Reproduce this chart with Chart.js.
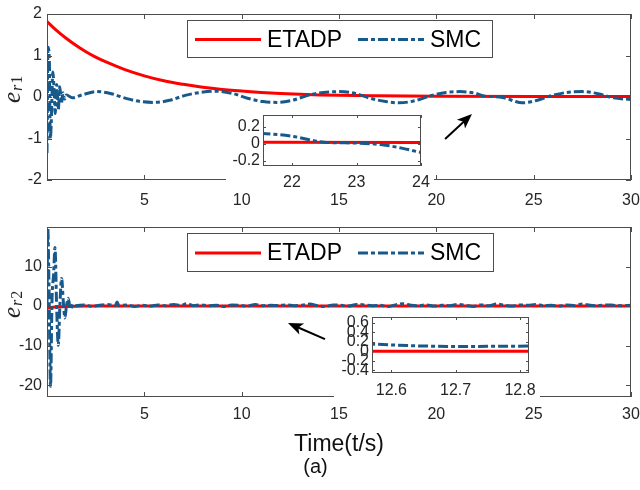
<!DOCTYPE html>
<html>
<head>
<meta charset="utf-8">
<script src="https://cdn.jsdelivr.net/npm/chart.js@4.4.1/dist/chart.umd.min.js"></script>
<style>
  body { margin: 0; background: #fff; }
  #wrap { position: relative; width: 640px; height: 490px; overflow: hidden; }
  canvas { position: absolute; }
</style>
</head>
<body>
<div id="wrap">
  <canvas id="topChart" width="640" height="212" style="left:0;top:0"></canvas>
  <canvas id="bottomChart" width="640" height="275" style="left:0;top:215px"></canvas>
  <canvas id="zoom1" width="208" height="81" style="left:226px;top:108px"></canvas>
  <canvas id="zoom2" width="206" height="92" style="left:334px;top:309px"></canvas>
</div>
<script>
// e_r1 : ETADP
const tEtadp1 = [0, 0.5, 1, 1.5, 2, 2.5, 3, 4, 5, 6, 7, 8, 9, 10, 11, 12, 13, 14, 15, 17, 20, 25, 30];
const etadp1 = [1.82, 1.6, 1.41, 1.24, 1.09, 0.96, 0.85, 0.66, 0.51, 0.39, 0.305, 0.236, 0.183, 0.142, 0.11, 0.085, 0.066, 0.05, 0.04, 0.03, 0.02, 0.015, 0.015];

// e_r1 : SMC
const tSmc1 = [0, 0.05, 0.12, 0.17, 0.22, 0.3, 0.36, 0.42, 0.5, 0.58,
  0.66, 0.74, 0.82, 0.9, 1.0, 1.3, 1.8, 2.55, 3.3, 4.1,
  4.8, 5.5, 6.3, 7.1, 7.9, 8.7, 9.5, 10.3, 11.1, 11.8,
  12.6, 13.4, 14.2, 15.0, 15.8, 16.6, 17.4, 18.1, 18.9, 19.7,
  20.5, 21.2, 21.6, 22.0, 22.5, 23.0, 23.4, 23.7, 24.0, 24.4,
  25.1, 25.9, 26.7, 27.5, 28.3, 29.1, 30];
const smc1 = [-1.35, 1.2, 0.9, -1.0, -0.6, 0.6, 0.2, -0.4, 0.3, -0.3,
  0.25, -0.15, 0.1, -0.05, 0.05, -0.02, 0.05, 0.13, 0.08, -0.04,
  -0.11, -0.13, -0.08, 0.04, 0.11, 0.14, 0.09, -0.03, -0.11, -0.13,
  -0.08, 0.04, 0.11, 0.13, 0.09, -0.03, -0.11, -0.14, -0.09, 0.03,
  0.11, 0.13, 0.12, 0.09, 0.02, 0.01, -0.01, -0.05, -0.1, -0.14,
  -0.09, 0.03, 0.11, 0.13, 0.08, -0.02, -0.06];

// e_r2 : ETADP
const tEtadp2 = [0, 0.3, 0.6, 1, 2, 30];
const etadp2 = [-0.4, -0.3, -0.2, -0.1, 0, 0];

// e_r2 : SMC
const tSmc2 = [0, 0.04, 0.1, 0.18, 0.26, 0.34, 0.41, 0.5, 0.58, 0.66,
  0.75, 0.84, 0.92, 1.0, 1.09, 1.2, 1.35, 1.5,
  1.9, 2.3, 2.7, 3.1, 3.5, 3.6, 3.7, 4.1, 4.5, 4.9,
  5.3, 5.7, 6.1, 6.5, 6.9, 7.2, 7.5, 7.9, 8.3, 8.7,
  9.1, 9.5, 9.9, 10.3, 10.7, 11.1, 11.5, 11.9, 12.3, 12.7,
  13.1, 13.5, 13.9, 14.3, 14.7, 15.1, 15.5, 15.9, 16.3, 16.7,
  17.1, 17.5, 17.9, 18.3, 18.7, 19.1, 19.5, 19.9, 20.3, 20.7,
  21.1, 21.5, 21.9, 22.3, 22.7, 23.1, 23.5, 23.9, 24.3, 24.7,
  25.1, 25.5, 25.9, 26.3, 26.7, 27.1, 27.5, 27.9, 28.3, 28.7,
  29.1, 29.5, 30];
const smc2 = [0, 19.8, 6, -20.3, 2, 8, 14.8, -1, -9.9, 0,
  7, 1, -3, 0, 2, -0.8, 0.6, 0.1,
  0.3, -0.1, 0.2, 0.4, 0.1, 1.0, 0.1, 0.3, -0.1, 0.2,
  0.0, 0.3, 0.1, 0.4, 0.2, 0.6, 0.1, 0.3, 0.1, 0.2,
  -0.1, 0.3, 0.2, 0.0, 0.4, 0.1, 0.2, 0.15, 0.3, 0.1,
  0.2, 0.5, 0.1, -0.1, 0.3, 0.2, 0.0, 0.4, 0.3, 0.1,
  0.2, -0.1, 0.3, 0.6, 0.2, 0.1, 0.3, 0.0, 0.2, 0.1,
  0.4, 0.2, -0.1, 0.3, 0.1, 0.5, 0.2, 0.0, 0.3, 0.2,
  0.4, 0.1, 0.2, 0.0, 0.3, 0.1, 0.5, 0.2, 0.1, 0.3,
  0.2, 0.1, 0.2];

// tick labels
const xTicks = [5, 10, 15, 20, 25, 30];
const yTicks1 = [-2, -1, 0, 1, 2];
const yTicks2 = [-20, -10, 0, 10];
const xTicksZoom1 = [22, 23, 24];
const yTicksZoom1 = [-0.2, 0, 0.2];
const xTicksZoom2 = [12.6, 12.7, 12.8];
const yTicksZoom2 = [-0.4, -0.2, 0, 0.2, 0.4, 0.6];

const FONT = '"Liberation Sans", Arial, sans-serif';
const INK = '#262626';
const BOX = '#4d4d4d';
const RED = '#ff0000';
const BLUE = '#18598b';

function series(ts, vs) {
  return ts.map((t, i) => ({ x: t, y: vs[i] }));
}

function makeDatasets(tE, vE, tS, vS) {
  return [
    { label: 'ETADP', data: series(tE, vE), borderColor: RED, borderWidth: 3,
      pointRadius: 0, cubicInterpolationMode: 'monotone', order: 1 },
    { label: 'SMC', data: series(tS, vS), borderColor: BLUE, borderWidth: 3,
      borderDash: [10, 3, 4, 3], pointRadius: 0, cubicInterpolationMode: 'monotone', order: 0 }
  ];
}

// set the ticks straight from a list
function fixedTicks(list) {
  return scale => { scale.ticks = list.map(v => ({ value: v })); };
}

function axis(opts) {
  const horizontal = opts.horizontal;
  return {
    type: 'linear', min: opts.min, max: opts.max,
    afterBuildTicks: fixedTicks(opts.ticks),
    afterFit: s => {
      if (horizontal) { s.height = opts.size; s.paddingLeft = 0; s.paddingRight = 0; }
      else { s.width = opts.size; s.paddingTop = 0; s.paddingBottom = 0; }
    },
    grid: { display: false, drawTicks: false },
    border: { display: false },
    title: opts.title || { display: false },
    ticks: { font: { family: FONT, size: 16 }, color: INK, padding: opts.pad,
      autoSkip: false, maxRotation: 0, includeBounds: false, callback: v => String(v) }
  };
}

// box around the axes with inward ticks (MATLAB style)
function frame(len) {
  return {
    id: 'frame',
    afterDatasetsDraw(chart) {
      const { ctx, chartArea: a } = chart;
      const xs = chart.scales.x, ys = chart.scales.y;
      ctx.save();
      ctx.strokeStyle = BOX;
      ctx.lineWidth = 1;
      ctx.beginPath();
      xs.ticks.forEach(t => {
        const px = Math.round(xs.getPixelForValue(t.value)) + 0.5;
        ctx.moveTo(px, a.bottom); ctx.lineTo(px, a.bottom - len);
        ctx.moveTo(px, a.top); ctx.lineTo(px, a.top + len);
      });
      ys.ticks.forEach(t => {
        const py = Math.round(ys.getPixelForValue(t.value)) + 0.5;
        ctx.moveTo(a.left, py); ctx.lineTo(a.left + len, py);
        ctx.moveTo(a.right, py); ctx.lineTo(a.right - len, py);
      });
      ctx.stroke();
      ctx.strokeRect(Math.round(a.left) + 0.5, Math.round(a.top) + 0.5,
        Math.round(a.right - a.left) - 1, Math.round(a.bottom - a.top) - 1);
      ctx.restore();
    }
  };
}

// boxed legend inside the axes
function boxLegend(pos) {
  return {
    id: 'boxLegend',
    afterDraw(chart) {
      const { ctx, chartArea: a } = chart;
      const x0 = Math.round(a.left + pos.x), y0 = Math.round(a.top + pos.y);
      ctx.save();
      ctx.fillStyle = '#fff';
      ctx.fillRect(x0, y0, pos.w, pos.h);
      ctx.strokeStyle = BOX;
      ctx.lineWidth = 1;
      ctx.strokeRect(x0 + 0.5, y0 + 0.5, pos.w, pos.h);
      ctx.font = '23px ' + FONT;
      ctx.textBaseline = 'middle';
      const cy = y0 + pos.h / 2 + 1;
      let x = x0 + 8;
      chart.data.datasets.forEach(ds => {
        ctx.strokeStyle = ds.borderColor;
        ctx.lineWidth = ds.borderWidth;
        ctx.setLineDash(ds.borderDash || []);
        ctx.beginPath();
        ctx.moveTo(x, cy);
        ctx.lineTo(x + 66, cy);
        ctx.stroke();
        ctx.setLineDash([]);
        x += 72;
        ctx.fillStyle = '#000';
        ctx.fillText(ds.label, x, cy + 1);
        x += ctx.measureText(ds.label).width + 16;
      });
      ctx.restore();
    }
  };
}

// rotated y label e_{r1} / e_{r2}
function yLabel(num) {
  return {
    id: 'yLabel',
    afterDraw(chart) {
      const { ctx, chartArea: a } = chart;
      ctx.save();
      ctx.translate(20, (a.top + a.bottom) / 2 + 6);
      ctx.rotate(-Math.PI / 2);
      ctx.fillStyle = INK;
      ctx.textBaseline = 'alphabetic';
      ctx.font = 'italic 25px "Liberation Serif"';
      ctx.fillText('e', 0, 0);
      let x = ctx.measureText('e').width + 1;
      ctx.font = 'italic 16px "Liberation Serif"';
      ctx.fillText('r', x, 2);
      x += ctx.measureText('r').width + 1;
      ctx.font = '16px "Liberation Serif"';
      ctx.fillText(num, x, 2);
      ctx.restore();
    }
  };
}

// black arrow pointing at the zoomed region (positions in data units)
function arrow(from, to) {
  return {
    id: 'arrow',
    afterDatasetsDraw(chart) {
      const { ctx } = chart;
      const xs = chart.scales.x, ys = chart.scales.y;
      const x1 = xs.getPixelForValue(from[0]), y1 = ys.getPixelForValue(from[1]);
      const x2 = xs.getPixelForValue(to[0]), y2 = ys.getPixelForValue(to[1]);
      const ang = Math.atan2(y2 - y1, x2 - x1);
      const c = Math.cos(ang), s = Math.sin(ang);
      const L = 15, W = 6;
      ctx.save();
      ctx.strokeStyle = '#000';
      ctx.fillStyle = '#000';
      ctx.lineWidth = 2;
      ctx.beginPath();
      ctx.moveTo(x1, y1);
      ctx.lineTo(x2 - L * 0.7 * c, y2 - L * 0.7 * s);
      ctx.stroke();
      ctx.beginPath();
      ctx.moveTo(x2, y2);
      ctx.lineTo(x2 - L * c + W * s, y2 - L * s - W * c);
      ctx.lineTo(x2 - L * 0.75 * c, y2 - L * 0.75 * s);
      ctx.lineTo(x2 - L * c - W * s, y2 - L * s + W * c);
      ctx.closePath();
      ctx.fill();
      ctx.restore();
    }
  };
}

const whiteBg = {
  id: 'whiteBg',
  beforeDraw(chart) {
    const ctx = chart.ctx;
    ctx.save();
    ctx.fillStyle = '#fff';
    ctx.fillRect(0, 0, chart.width, chart.height);
    ctx.restore();
  }
};

const basePlugins = { legend: { display: false }, tooltip: { enabled: false } };

// top axes
new Chart(document.getElementById('topChart'), {
  type: 'line',
  data: { datasets: makeDatasets(tEtadp1, etadp1, tSmc1, smc1) },
  options: {
    responsive: false, animation: false, devicePixelRatio: 1,
    layout: { padding: { left: 0, right: 9, top: 14, bottom: 0 } },
    scales: {
      x: axis({ horizontal: true, min: 0, max: 30, ticks: xTicks, size: 32, pad: 11 }),
      y: axis({ horizontal: false, min: -2, max: 2, ticks: yTicks1, size: 47, pad: 5 })
    },
    plugins: basePlugins
  },
  plugins: [frame(5), arrow([20.45, -1.01], [21.83, -0.41]), boxLegend({ x: 140, y: 6, w: 305, h: 37 }), yLabel('1')]
});

// bottom axes
new Chart(document.getElementById('bottomChart'), {
  type: 'line',
  data: { datasets: makeDatasets(tEtadp2, etadp2, tSmc2, smc2) },
  options: {
    responsive: false, animation: false, devicePixelRatio: 1,
    layout: { padding: { left: 0, right: 9, top: 12, bottom: 0 } },
    scales: {
      x: axis({ horizontal: true, min: 0, max: 30, ticks: xTicks, size: 58, pad: 8,
        title: { display: true, text: 'Time(t/s)', color: '#111', padding: { top: 0, bottom: -3 },
          font: { family: FONT, size: 23 } } }),
      y: axis({ horizontal: false, min: -23, max: 20, ticks: yTicks2, size: 47, pad: 5 })
    },
    plugins: Object.assign({}, basePlugins, {
      title: { display: true, position: 'bottom', text: '(a)', color: '#111',
        padding: { top: 0, bottom: 11 }, font: { family: FONT, size: 20, weight: 'normal' } }
    })
  },
  plugins: [frame(5), arrow([14.28, -8.35], [12.38, -4.3]), boxLegend({ x: 140, y: 6, w: 306, h: 38 }), yLabel('2')]
});

// zoom of e_r1
new Chart(document.getElementById('zoom1'), {
  type: 'line',
  data: { datasets: makeDatasets(tEtadp1, etadp1, tSmc1, smc1) },
  options: {
    responsive: false, animation: false, devicePixelRatio: 1,
    layout: { padding: { left: 0, right: 13, top: 7, bottom: 0 } },
    scales: {
      x: axis({ horizontal: true, min: 21.55, max: 24, ticks: xTicksZoom1, size: 23, pad: 7 }),
      y: axis({ horizontal: false, min: -0.26, max: 0.34, ticks: yTicksZoom1, size: 37, pad: 3 })
    },
    plugins: basePlugins
  },
  plugins: [whiteBg, frame(3)]
});

// zoom of e_r2
new Chart(document.getElementById('zoom2'), {
  type: 'line',
  data: { datasets: makeDatasets(tEtadp2, etadp2, tSmc2, smc2) },
  options: {
    responsive: false, animation: false, devicePixelRatio: 1,
    layout: { padding: { left: 0, right: 11, top: 8, bottom: 0 } },
    scales: {
      x: axis({ horizontal: true, min: 12.57, max: 12.814, ticks: xTicksZoom2, size: 28, pad: 8 }),
      y: axis({ horizontal: false, min: -0.46, max: 0.72, ticks: yTicksZoom2, size: 38, pad: 3 })
    },
    plugins: basePlugins
  },
  plugins: [whiteBg, frame(3)]
});
</script>
</body>
</html>
